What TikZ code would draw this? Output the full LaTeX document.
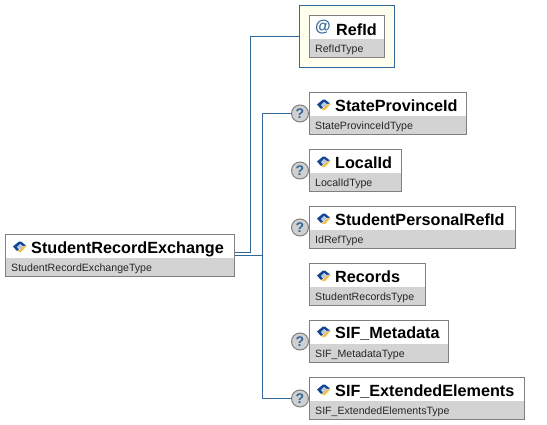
\documentclass[tikz,border=0pt]{standalone}
\usepackage{fontspec}
\setmainfont{Liberation Sans}
\usepackage{tikz}

\definecolor{linkblue}{RGB}{51,102,153}
\definecolor{boxgray}{RGB}{128,128,128}
\definecolor{bandgray}{RGB}{211,211,211}
\definecolor{attrback}{RGB}{255,255,238}
\definecolor{bubblegray}{RGB}{208,208,208}
\definecolor{iconyellow}{RGB}{245,190,60}
\definecolor{iconblue}{RGB}{20,70,150}

\tikzset{
	elembox/.style={draw=boxgray, line width=1pt, fill=white, anchor=north west, inner sep=0pt, minimum height=42pt},
	bandbox/.style={fill=bandgray, anchor=north west, inner sep=0pt, outer sep=0pt, minimum height=18pt},
	titletext/.style={anchor=base west, inner sep=0pt, font=\fontsize{16.2}{16.2}\selectfont\bfseries},
	typetext/.style={anchor=base west, inner sep=0pt, font=\fontsize{10.6}{10.6}\selectfont, text=black!85},
	optbubble/.style={circle, draw=boxgray, fill=bubblegray, line width=1pt, minimum size=17pt, inner sep=0pt, text=linkblue, font=\fontsize{14}{14}\selectfont\bfseries},
	link/.style={draw=linkblue, line width=1pt},
	elemicon/.pic={
		\fill[iconblue] (-7,-0.5) -- (-1,-5.5) -- (1,-5.5) -- (6,-1.5) -- (3,-1) -- (0,-3) -- (-3,0) -- (-1,2.5) -- (-3,4) -- cycle;
		\fill[iconyellow] (6.5,-1) -- (1,5) -- (-1,5) -- (-2.5,4) -- (0,2.5) -- (3,-0.5) -- cycle;
		\fill[linkblue!35] (-3,0) -- (0,-3) -- (3,-0.5) -- (0,2.5) -- cycle;
	}
}

\begin{document}
\begin{tikzpicture}[x=1pt, y=-1pt]
	
	\useasboundingbox (0, 0) rectangle (547, 424);
	
	% StudentRecordExchange
	\node[elembox, minimum width=229pt] (root) at (5, 234) {};
	\node[bandbox, minimum width=228pt] (rootband) at (6, 258) {};
	\pic at (20, 247) {elemicon};
	\node[titletext] (roottitle) at (31, 253) {StudentRecordExchange};
	\node[typetext] (roottype) at (11, 271) {StudentRecordExchangeType};
	
	% RefId
	\node[draw=linkblue, line width=1pt, fill=attrback, anchor=north west, minimum width=95pt, minimum height=62pt] (attr) at (299, 5) {};
	\node[elembox, minimum width=75pt] (refid) at (309, 15) {};
	\node[bandbox, minimum width=74pt] (refidband) at (310, 39) {};
	\node[anchor=base west, inner sep=0pt, text=linkblue, font=\fontsize{16}{16}\selectfont\bfseries] (refidat) at (315, 31) {@};
	\node[titletext] (refidtitle) at (336, 35) {RefId};
	\node[typetext] (refidtype) at (315, 52) {RefIdType};
	
	% StateProvinceId
	\node[elembox, minimum width=157pt] (state) at (309, 92) {};
	\node[bandbox, minimum width=156pt] (stateband) at (310, 116) {};
	\pic at (324, 105) {elemicon};
	\node[titletext] (statetitle) at (335, 111) {StateProvinceId};
	\node[typetext] (statetype) at (315, 129) {StateProvinceIdType};
	\node[optbubble] (stateopt) at (300, 113.5) {?};
	
	% LocalId
	\node[elembox, minimum width=92pt] (local) at (309, 149) {};
	\node[bandbox, minimum width=91pt] (localband) at (310, 173) {};
	\pic at (324, 162) {elemicon};
	\node[titletext] (localtitle) at (335, 168) {LocalId};
	\node[typetext] (localtype) at (315, 186) {LocalIdType};
	\node[optbubble] (localopt) at (300, 170.5) {?};
	
	% StudentPersonalRefId
	\node[elembox, minimum width=206pt] (personal) at (309, 206) {};
	\node[bandbox, minimum width=205pt] (personalband) at (310, 230) {};
	\pic at (324, 219) {elemicon};
	\node[titletext] (personaltitle) at (335, 225) {StudentPersonalRefId};
	\node[typetext] (personaltype) at (315, 243) {IdRefType};
	\node[optbubble] (personalopt) at (300, 227.5) {?};
	
	% Records
	\node[elembox, minimum width=116pt] (records) at (309, 263) {};
	\node[bandbox, minimum width=115pt] (recordsband) at (310, 287) {};
	\pic at (324, 276) {elemicon};
	\node[titletext] (recordstitle) at (335, 282) {Records};
	\node[typetext] (recordstype) at (315, 300) {StudentRecordsType};
	
	% SIF_Metadata
	\node[elembox, minimum width=139pt] (meta) at (309, 320) {};
	\node[bandbox, minimum width=138pt] (metaband) at (310, 344) {};
	\pic at (324, 332) {elemicon};
	\node[titletext] (metatitle) at (335, 338) {SIF\_Metadata};
	\node[typetext] (metatype) at (315, 357) {SIF\_MetadataType};
	\node[optbubble] (metaopt) at (300, 341.5) {?};
	
	% SIF_ExtendedElements
	\node[elembox, minimum width=215pt] (ext) at (309, 377) {};
	\node[bandbox, minimum width=214pt] (extband) at (310, 401) {};
	\pic at (324, 390) {elemicon};
	\node[titletext] (exttitle) at (335, 396) {SIF\_ExtendedElements};
	\node[typetext] (exttype) at (315, 414) {SIF\_ExtendedElementsType};
	\node[optbubble] (extopt) at (300, 398.5) {?};
	
	% connectors
	\coordinate (rootup) at (235, 252.5);
	\coordinate (rootdown) at (235, 255.5);
	\coordinate (attrbend) at (250.5, 36.5);
	\coordinate (stem) at (262.5, 255.5);
	\draw[link] (rootup) -| (attrbend) -- (attr.west);
	\draw[link] (rootdown) -- (stem);
	\draw[link] (stateopt.west) -| (stem) |- (extopt.west);
	
\end{tikzpicture}
\end{document}
